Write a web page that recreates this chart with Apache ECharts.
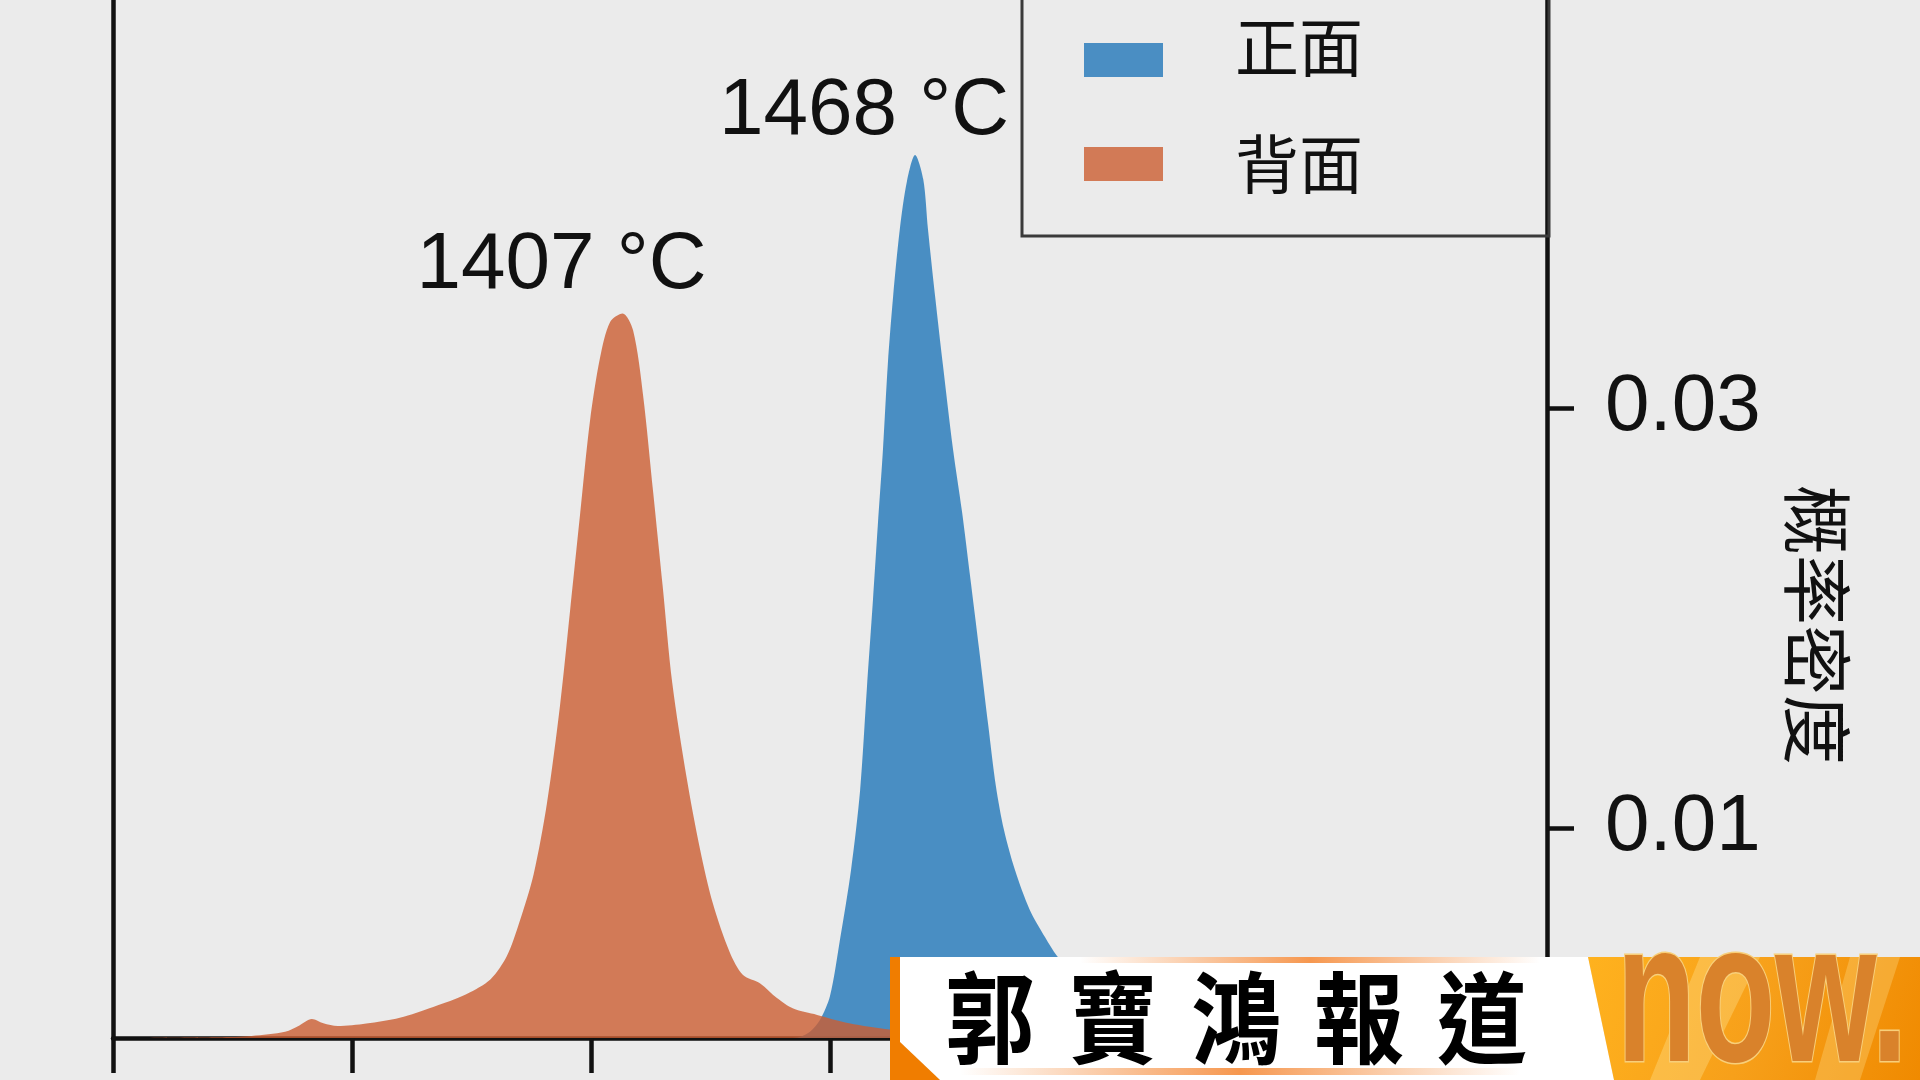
<!DOCTYPE html>
<html>
<head>
<meta charset="utf-8">
<script src="https://cdn.jsdelivr.net/npm/echarts@6/dist/echarts.min.js"></script>
<style>
html,body{margin:0;padding:0;background:#ebebeb;overflow:hidden}
#c{width:1920px;height:1080px}
</style>
</head>
<body>
<div id="c"></div>
<script>
// ---------- data ----------
const seriesNames = ['正面', '背面'];
const frontTemps = [1438, 1441.6, 1443.7, 1445.8, 1447.9, 1450.0, 1452.1, 1454.4, 1456.3, 1457.7, 1459.0, 1460.0, 1461.1, 1462.1, 1463.2, 1464.6, 1466.1, 1467.8, 1469.5, 1470.5, 1472.0, 1473.6, 1475.7, 1477.6, 1479.3, 1481.2, 1483.1, 1484.7, 1486.4, 1488.7, 1491.8, 1495.0, 1497.5, 1500, 1505, 1510, 1520, 1530, 1545, 1560];
const frontDensity = [0, 0, 0.00005, 0.0003, 0.00086, 0.0020, 0.0047, 0.0080, 0.0118, 0.0166, 0.0209, 0.0244, 0.0281, 0.0321, 0.0353, 0.0385, 0.0408, 0.04205, 0.0409, 0.0385, 0.0353, 0.0321, 0.0281, 0.0251, 0.0220, 0.0185, 0.0149, 0.0120, 0.0099, 0.0080, 0.0061, 0.0048, 0.0039, 0.0033, 0.0023, 0.0015, 0.0007, 0.0003, 0.0001, 0];
const backTemps = [1300, 1322, 1329, 1336, 1339, 1341.6, 1344, 1347, 1353, 1360, 1367, 1374, 1379, 1382.4, 1385, 1388, 1390.8, 1393.5, 1395.6, 1397.7, 1399.8, 1401.9, 1404, 1406.6, 1408.8, 1410.9, 1413, 1415, 1417, 1420, 1422.8, 1425.5, 1429, 1431.8, 1435.4, 1438.9, 1442.3, 1447.3, 1454, 1462.5, 1470, 1480, 1490];
const backDensity = [0, 0.00004, 0.0001, 0.0003, 0.0006, 0.0009, 0.0007, 0.00057, 0.00069, 0.00097, 0.00148, 0.0021, 0.0028, 0.0039, 0.0055, 0.0078, 0.0112, 0.0158, 0.0203, 0.0249, 0.0294, 0.0324, 0.0341, 0.0345, 0.0337, 0.0306, 0.0260, 0.0215, 0.0169, 0.0124, 0.0090, 0.0064, 0.0041, 0.0030, 0.0026, 0.0019, 0.0014, 0.0011, 0.0007, 0.0004, 0.0002, 0.0001, 0];
const peakTemps = [1468, 1407];
const peakLabels = ['1468 °C', '1407 °C'];
const yTickValues = [0.01, 0.03];
const xRange = [1300, 1600];
const xInterval = 50;
const yMax = 0.04943;
const yAxisName = '概率密度';
const bannerText = '郭寶鴻報道';
const logoText = 'now.';

// ---------- styles ----------
const NUM_FONT = '"Liberation Sans", Arial, Helvetica, sans-serif';
const CJK_FONT = '"Noto Sans CJK SC", "Noto Sans CJK TC", sans-serif';
const fillColors = ['#2177b9', '#cc5e32'];
const legendColors = ['#4a8ec3', '#d27a56'];
const axisColor = '#111111';
const AXIS_W = 4.5;

function pairs(xs, ys) { return xs.map((x, i) => [x, ys[i]]); }
const seriesData = [pairs(frontTemps, frontDensity), pairs(backTemps, backDensity)];
const peakValues = [Math.max.apply(null, frontDensity), Math.max.apply(null, backDensity)];
const peakOffsets = [[-52, -43], [-63, -48]];

const chart = echarts.init(document.getElementById('c'), null, {width: 1920, height: 1080, renderer: 'canvas'});

const series = seriesNames.map((name, i) => ({
  name: name,
  type: 'line',
  data: seriesData[i],
  yAxisIndex: 0,
  smooth: 0.3,
  showSymbol: false,
  symbol: 'none',
  silent: true,
  z: 2 + i,
  itemStyle: {color: fillColors[i]},
  lineStyle: {width: 0, color: fillColors[i]},
  areaStyle: {color: fillColors[i], opacity: 0.8},
  markPoint: {
    symbol: 'circle',
    symbolSize: 1,
    itemStyle: {color: 'rgba(0,0,0,0)'},
    label: {
      show: true,
      position: 'inside',
      offset: peakOffsets[i],
      formatter: peakLabels[i],
      fontSize: 80,
      color: axisColor,
      fontFamily: NUM_FONT
    },
    data: [{coord: [peakTemps[i], peakValues[i]]}]
  }
}));

// banner graphics
const glow = () => new echarts.graphic.LinearGradient(0, 0, 1, 0, [
  {offset: 0, color: 'rgba(245,140,60,0)'},
  {offset: 0.5, color: 'rgba(245,140,60,0.9)'},
  {offset: 1, color: 'rgba(245,140,60,0)'}
]);
const bannerChars = bannerText.split('');
const bannerGraphics = [
  {type: 'rect', z: 100, shape: {x: 890, y: 957, width: 10, height: 123}, style: {fill: '#f07d00'}},
  {type: 'polygon', z: 100, shape: {points: [[900, 957], [1588, 957], [1614, 1080], [940, 1080], [900, 1042]]}, style: {fill: '#ffffff'}},
  {type: 'polygon', z: 100, shape: {points: [[900, 1042], [940, 1080], [900, 1080]]}, style: {fill: '#f07d00'}},
  {type: 'rect', z: 101, shape: {x: 1080, y: 957, width: 460, height: 6}, style: {fill: glow()}},
  {type: 'rect', z: 101, shape: {x: 960, y: 1068, width: 560, height: 7}, style: {fill: glow()}},
  {type: 'polygon', z: 100, shape: {points: [[1588, 957], [1920, 957], [1920, 1080], [1614, 1080]]}, style: {fill: new echarts.graphic.LinearGradient(0, 0, 1, 1, [{offset: 0, color: '#ffb21e'}, {offset: 0.5, color: '#f7a01a'}, {offset: 1, color: '#f08a00'}])}},
  {type: 'polygon', z: 101, shape: {points: [[1700, 957], [1760, 957], [1700, 1080], [1650, 1080]]}, style: {fill: 'rgba(255,230,150,0.35)'}},
  {type: 'polygon', z: 101, shape: {points: [[1850, 957], [1900, 957], [1860, 1080], [1815, 1080]]}, style: {fill: 'rgba(255,230,150,0.3)'}},
  {type: 'text', z: 102, x: 1762, y: 1006, scaleX: 0.65, style: {text: logoText, x: 0, y: 0, align: 'center', verticalAlign: 'middle', fontSize: 200, fontWeight: 'bold', fontFamily: NUM_FONT, fill: '#d9822b', stroke: '#f8cf7a', lineWidth: 3, shadowColor: 'rgba(120,60,0,0.55)', shadowBlur: 6, shadowOffsetX: 5, shadowOffsetY: 4}}
];
bannerChars.forEach((ch, i) => {
  bannerGraphics.push({
    type: 'text', z: 103, x: 990 + i * 123, y: 1018, scaleX: 0.9,
    style: {text: ch, x: 0, y: 0, align: 'center', verticalAlign: 'middle', fontSize: 100, fontWeight: 'bold', fontFamily: '"Noto Sans CJK TC", "Noto Sans CJK SC", sans-serif', fill: '#000000'}
  });
});

const option = {
  backgroundColor: '#ebebeb',
  animation: false,
  grid: {left: 113, right: 373, top: 0, bottom: 42, containLabel: false},
  legend: {
    orient: 'vertical',
    left: 1022,
    top: -20,
    padding: [35, 186, 40, 62],
    itemWidth: 79,
    itemHeight: 34,
    itemGap: 53,
    icon: 'rect',
    borderColor: '#3a3a3a',
    borderWidth: 3,
    backgroundColor: 'rgba(0,0,0,0)',
    selectedMode: false,
    itemStyle: {borderWidth: 0},
    formatter: name => (name === seriesNames[0] ? '{s| }{t|' + name + '}' : '{s| }{u|' + name + '}'),
    textStyle: {
      fontSize: 64, color: axisColor, fontFamily: CJK_FONT, padding: [0, 0, 0, 66],
      rich: {
        s: {width: 1, height: 90, fontSize: 10},
        t: {fontSize: 64, lineHeight: 64, verticalAlign: 'top', color: axisColor, fontFamily: CJK_FONT},
        u: {fontSize: 64, lineHeight: 64, verticalAlign: 'middle', color: axisColor, fontFamily: CJK_FONT}
      }
    },
    data: seriesNames.map((n, i) => ({name: n, itemStyle: {color: legendColors[i], opacity: 1}}))
  },
  xAxis: {
    type: 'value',
    min: xRange[0],
    max: xRange[1],
    interval: xInterval,
    axisLine: {show: true, onZero: false, lineStyle: {color: axisColor, width: AXIS_W}},
    axisTick: {show: true, inside: false, length: 35, lineStyle: {color: axisColor, width: AXIS_W}},
    axisLabel: {show: false},
    splitLine: {show: false}
  },
  yAxis: [
    {
      type: 'value',
      position: 'right',
      min: 0,
      max: yMax,
      axisLine: {show: true, onZero: false, lineStyle: {color: axisColor, width: AXIS_W}},
      axisTick: {show: true, length: 27, lineStyle: {color: axisColor, width: AXIS_W}, customValues: yTickValues},
      axisLabel: {show: true, customValues: yTickValues, margin: 58, fontSize: 80, color: axisColor, fontFamily: NUM_FONT, formatter: v => v.toFixed(2)},
      splitLine: {show: false}
    },
    {
      type: 'value',
      position: 'left',
      min: 0,
      max: yMax,
      axisLine: {show: true, onZero: false, lineStyle: {color: axisColor, width: AXIS_W}},
      axisTick: {show: false},
      axisLabel: {show: false},
      splitLine: {show: false}
    }
  ],
  graphic: [
    {type: 'text', z: 50, x: 1817, y: 625, rotation: -Math.PI / 2, style: {text: yAxisName, x: 0, y: 0, align: 'center', verticalAlign: 'middle', fontSize: 70, fill: axisColor, fontFamily: CJK_FONT}}
  ].concat(bannerGraphics),
  series: series
};
chart.setOption(option);
</script>
</body>
</html>
